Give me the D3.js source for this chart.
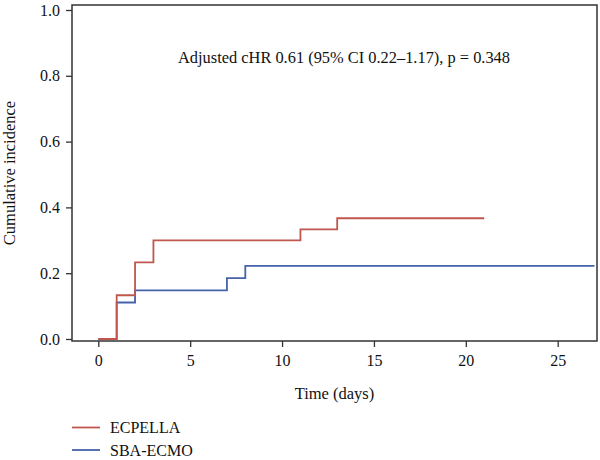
<!DOCTYPE html>
<html>
<head>
<meta charset="utf-8">
<script src="https://cdn.jsdelivr.net/npm/d3@7"></script>
<style>
  body { margin: 0; background: #fff; }
  svg { display: block; }
  text { font-family: "Liberation Serif", "DejaVu Serif", serif; fill: #111; }
</style>
</head>
<body>
<svg id="chart" width="600" height="460"></svg>
<script>
// Data (step functions: time at which the value starts)
const seriesNames = ["ECPELLA", "SBA-ECMO"];
const ecpellaTime  = [0, 1, 2, 3, 11, 13, 21];
const ecpellaValue = [0, 0.133, 0.233, 0.300, 0.333, 0.367, 0.367];
const ecmoTime  = [0, 1, 2, 7, 8, 27];
const ecmoValue = [0, 0.111, 0.148, 0.185, 0.222, 0.222];
const xTicks = [0, 5, 10, 15, 20, 25];
const yTicks = [0.0, 0.2, 0.4, 0.6, 0.8, 1.0];
const annotation = "Adjusted cHR 0.61 (95% CI 0.22\u20131.17), p = 0.348";
const colors = ["#c0574f", "#4563a9"];

const svg = d3.select("#chart");
const box = { left: 72, right: 597, top: 5, bottom: 341 };

const x = d3.scaleLinear().domain([0, 25]).range([98.3, 557.7]);
const y = d3.scaleLinear().domain([0, 1]).range([339, 10]);

// Box
svg.append("rect")
  .attr("x", box.left).attr("y", box.top)
  .attr("width", box.right - box.left).attr("height", box.bottom - box.top)
  .attr("fill", "none").attr("stroke", "#333").attr("stroke-width", 1.5);

// Axes
const xAxis = d3.axisBottom(x).tickValues(xTicks).tickSize(6).tickPadding(8).tickFormat(d3.format("d"));
const gx = svg.append("g").attr("transform", `translate(0,${box.bottom})`).call(xAxis);
gx.select(".domain").remove();
gx.selectAll(".tick line").attr("stroke", "#333").attr("stroke-width", 1.3);
gx.selectAll(".tick text").attr("font-size", 16).attr("font-family", "Liberation Serif").attr("fill", "#111");

const yAxis = d3.axisLeft(y).tickValues(yTicks).tickSize(6).tickPadding(6).tickFormat(d3.format(".1f"));
const gy = svg.append("g").attr("transform", `translate(${box.left},0)`).call(yAxis);
gy.select(".domain").remove();
gy.selectAll(".tick line").attr("stroke", "#333").attr("stroke-width", 1.3);
gy.selectAll(".tick text").attr("font-size", 16).attr("font-family", "Liberation Serif").attr("fill", "#111");

// Axis titles
svg.append("text")
  .attr("x", (box.left + box.right) / 2).attr("y", 399)
  .attr("text-anchor", "middle").attr("font-size", 16.5)
  .text("Time (days)");
svg.append("text")
  .attr("transform", `translate(15,${(box.top + box.bottom) / 2}) rotate(-90)`)
  .attr("text-anchor", "middle").attr("font-size", 16.5)
  .text("Cumulative incidence");

// Annotation
svg.append("text")
  .attr("x", 344).attr("y", 63)
  .attr("text-anchor", "middle").attr("font-size", 16.4)
  .text(annotation);

// Step lines
const line = d3.line().x(d => x(d[0])).y(d => y(d[1])).curve(d3.curveStepAfter);
const data = [
  d3.zip(ecpellaTime, ecpellaValue),
  d3.zip(ecmoTime, ecmoValue)
];
[1, 0].forEach(i => {
  svg.append("path")
    .attr("d", line(data[i]))
    .attr("fill", "none")
    .attr("stroke", colors[i])
    .attr("stroke-width", 1.8);
});

// Legend
const legendY = [427.5, 450];
seriesNames.forEach((name, i) => {
  svg.append("line")
    .attr("x1", 72).attr("x2", 100)
    .attr("y1", legendY[i]).attr("y2", legendY[i])
    .attr("stroke", colors[i]).attr("stroke-width", 1.8);
  svg.append("text")
    .attr("x", 110).attr("y", legendY[i] + 5.5)
    .attr("font-size", 16)
    .text(name);
});
</script>
</body>
</html>
